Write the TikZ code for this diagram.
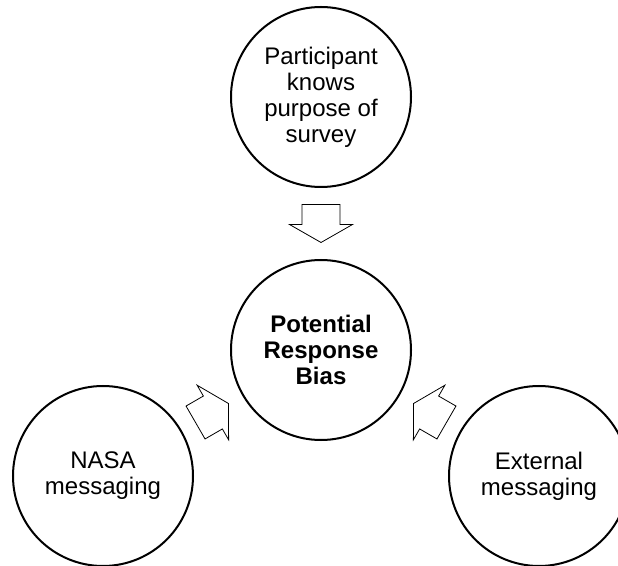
\documentclass[tikz,border=0pt]{standalone}
\usepackage{fontspec}
\setmainfont{Liberation Sans}
\usetikzlibrary{calc}

\tikzset{
  bubble/.style={circle, draw=black, line width=2pt, minimum size=180pt,
    inner sep=0pt, align=center, font=\fontsize{24}{26}\selectfont},
  % hollow block arrow, pointing along +x, centred on the origin
  blockarrow/.pic={
    \draw[black, line width=0.8pt, line join=miter]
      (-19,-19) -- (1,-19) -- (1,-31.5) -- (19,0) -- (1,31.5) -- (1,19)
      -- (-19,19) -- cycle;
  }
}

\begin{document}
\begin{tikzpicture}[x=1pt, y=1pt]
  \clip (0,0) rectangle (618,565);
  \useasboundingbox (0,0) rectangle (618,565);

  \node[bubble] (hub) at (321,215) {\textbf{Potential}\\\textbf{Response}\\\textbf{Bias}};
  \node[bubble] (top) at (321,468) {Participant\\knows\\purpose of\\survey};
  \node[bubble] (left) at (103,89) {NASA\\messaging};
  \node[bubble] (right) at (539,89) {External\\messaging};

  % block arrows halfway between each outer bubble and the hub
  \path ($(top)!0.5!(hub)$) pic[rotate=-90] {blockarrow};
  \path ($(left)!0.5!(hub)$) pic[rotate=30] {blockarrow};
  \path ($(right)!0.5!(hub)$) pic[rotate=150] {blockarrow};
\end{tikzpicture}
\end{document}
